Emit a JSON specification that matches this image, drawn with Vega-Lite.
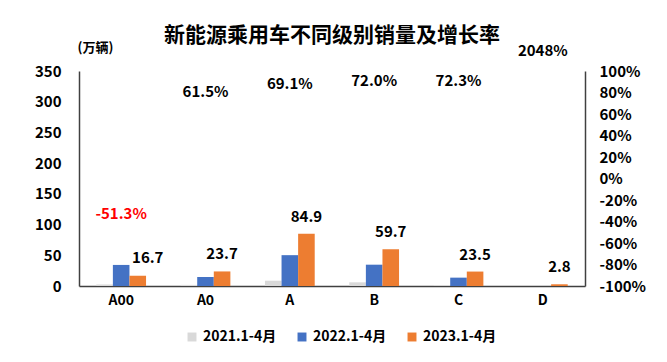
{
  "$schema": "https://vega.github.io/schema/vega-lite/v6.json",
  "width": 506,
  "height": 215,
  "autosize": {"type": "none"},
  "padding": {"left": 79, "top": 71, "right": 82, "bottom": 76},
  "background": "white",
  "config": {
    "font": "Noto Sans CJK SC",
    "view": {"stroke": null}
  },
  "title": {
    "text": "新能源乘用车不同级别销量及增长率",
    "fontSize": 21,
    "fontWeight": "bold",
    "color": "#000000",
    "frame": "group",
    "anchor": "middle",
    "offset": -5
  },
  "datasets": {
    "sales": [
      {"cat": "A00", "series": "2021.1-4月", "value": 2.5},
      {"cat": "A00", "series": "2022.1-4月", "value": 34.3},
      {"cat": "A00", "series": "2023.1-4月", "value": 16.7},
      {"cat": "A0", "series": "2021.1-4月", "value": 1.8},
      {"cat": "A0", "series": "2022.1-4月", "value": 14.7},
      {"cat": "A0", "series": "2023.1-4月", "value": 23.7},
      {"cat": "A", "series": "2021.1-4月", "value": 8.6},
      {"cat": "A", "series": "2022.1-4月", "value": 50.2},
      {"cat": "A", "series": "2023.1-4月", "value": 84.9},
      {"cat": "B", "series": "2021.1-4月", "value": 6.0},
      {"cat": "B", "series": "2022.1-4月", "value": 34.7},
      {"cat": "B", "series": "2023.1-4月", "value": 59.7},
      {"cat": "C", "series": "2021.1-4月", "value": 1.2},
      {"cat": "C", "series": "2022.1-4月", "value": 13.6},
      {"cat": "C", "series": "2023.1-4月", "value": 23.5},
      {"cat": "D", "series": "2021.1-4月", "value": 0.1},
      {"cat": "D", "series": "2022.1-4月", "value": 0.13},
      {"cat": "D", "series": "2023.1-4月", "value": 2.8}
    ],
    "growth": [
      {"cat": "A00", "growth": -0.513, "label": "-51.3%"},
      {"cat": "A0", "growth": 0.615, "label": "61.5%"},
      {"cat": "A", "growth": 0.691, "label": "69.1%"},
      {"cat": "B", "growth": 0.72, "label": "72.0%"},
      {"cat": "C", "growth": 0.723, "label": "72.3%"},
      {"cat": "D", "growth": 20.48, "label": "2048%"}
    ]
  },
  "encoding": {
    "x": {
      "field": "cat",
      "type": "nominal",
      "sort": ["A00", "A0", "A", "B", "C", "D"],
      "scale": {"paddingInner": 0.41, "paddingOuter": 0.205},
      "axis": {
        "title": null,
        "labelAngle": 0,
        "labelFontSize": 14,
        "labelFontWeight": "bold",
        "labelColor": "#000000",
        "labelPadding": 7,
        "ticks": false,
        "domainColor": "#404040",
        "domainWidth": 1.5
      }
    }
  },
  "layer": [
    {
      "data": {"name": "sales"},
      "encoding": {
        "xOffset": {
          "field": "series",
          "type": "nominal",
          "scale": {"domain": ["2021.1-4月", "2022.1-4月", "2023.1-4月"], "paddingInner": 0, "paddingOuter": 0}
        },
        "y": {
          "field": "value",
          "type": "quantitative",
          "scale": {"domain": [0, 350], "nice": false},
          "axis": {
            "values": [0, 50, 100, 150, 200, 250, 300, 350],
            "labelOverlap": false,
            "title": "(万辆)",
            "titleAngle": 0,
            "titleAlign": "left",
            "titleBaseline": "middle",
            "titleX": -2,
            "titleY": -24,
            "titleFontSize": 13,
            "titleFontWeight": "bold",
            "titleColor": "#000000",
            "labelFontSize": 15,
            "labelFontWeight": "bold",
            "labelColor": "#000000",
            "labelPadding": 18,
            "ticks": false,
            "grid": false,
            "domainColor": "#404040",
            "domainWidth": 1.5
          }
        }
      },
      "layer": [
        {
          "mark": {"type": "bar"},
          "encoding": {
            "color": {
              "field": "series",
              "type": "nominal",
              "scale": {
                "domain": ["2021.1-4月", "2022.1-4月", "2023.1-4月"],
                "range": ["#d9d9d9", "#4472c4", "#ed7d31"]
              },
              "legend": {
                "title": null,
                "orient": "none",
                "direction": "horizontal",
                "legendX": 106,
                "legendY": 259,
                "symbolType": "square",
                "symbolSize": 80,
                "symbolStrokeWidth": 0,
                "labelFontSize": 14,
                "labelFontWeight": "bold",
                "labelColor": "#000000",
                "labelOffset": 4,
                "columnPadding": 18
              }
            }
          }
        },
        {
          "transform": [{"filter": "datum.series === '2023.1-4月' && datum.cat !== 'A00'"}],
          "mark": {"type": "text", "fontSize": 15, "fontWeight": "bold", "baseline": "middle", "dy": -17, "color": "#000000"},
          "encoding": {
            "text": {"field": "value", "type": "quantitative", "format": ".1f"}
          }
        },
        {
          "transform": [{"filter": "datum.series === '2023.1-4月' && datum.cat === 'A00'"}],
          "mark": {"type": "text", "fontSize": 15, "fontWeight": "bold", "baseline": "middle", "dy": -18, "dx": 10, "color": "#000000"},
          "encoding": {
            "text": {"field": "value", "type": "quantitative", "format": ".1f"}
          }
        }
      ]
    },
    {
      "data": {"name": "growth"},
      "mark": {"type": "text", "fontSize": 15, "fontWeight": "bold", "baseline": "middle", "dy": -20},
      "encoding": {
        "y": {
          "field": "growth",
          "type": "quantitative",
          "scale": {"domain": [-1, 1], "nice": false, "clamp": true},
          "axis": {
            "orient": "right",
            "values": [-1, -0.8, -0.6, -0.4, -0.2, 0, 0.2, 0.4, 0.6, 0.8, 1],
            "labelOverlap": false,
            "format": ".0%",
            "labelExpr": "replace(datum.label, '\u2212', '-')",
            "title": null,
            "labelFontSize": 15,
            "labelFontWeight": "bold",
            "labelColor": "#000000",
            "labelPadding": 14,
            "ticks": false,
            "grid": false,
            "domainColor": "#404040",
            "domainWidth": 1.5
          }
        },
        "text": {"field": "label", "type": "nominal"},
        "color": {
          "condition": {"test": "datum.growth < 0", "value": "#ff0000"},
          "value": "#000000"
        }
      }
    }
  ],
  "resolve": {"scale": {"y": "independent"}}
}
